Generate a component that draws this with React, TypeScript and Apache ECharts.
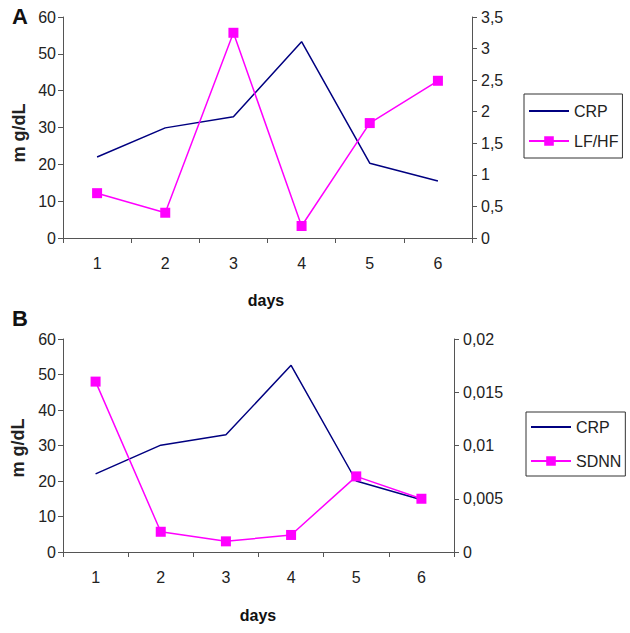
import React, { useEffect, useRef } from "react";
import * as echarts from "echarts";

const days = ["1", "2", "3", "4", "5", "6"];
const crpA = [22.0, 29.9, 32.9, 53.3, 20.3, 15.5];
const lfhf = [0.71, 0.4, 3.25, 0.19, 1.82, 2.49];
const crpB = [22.0, 30.1, 33.0, 52.6, 20.0, 14.7];
const sdnn = [0.016, 0.0019, 0.001, 0.0016, 0.0071, 0.005];

const FONT = "'Liberation Sans', Arial, sans-serif";
const NAVY = "#000080";
const MAGENTA = "#ff00ff";
const AXIS = "#555555";
const TXT = "#222222";

const comma = (v: number) => String(+v.toFixed(4)).replace(".", ",");

export default function App() {
  const ref = useRef<HTMLDivElement>(null);
  useEffect(() => {
    if (!ref.current) return;
    const chart = echarts.init(ref.current, null, { renderer: "svg" });
    const axisLine = { show: true, lineStyle: { color: AXIS, width: 1 } };
    const axisLabel = { color: TXT, fontSize: 16, fontFamily: FONT };
    const xAxisBase = {
      type: "category" as const,
      data: days,
      boundaryGap: true,
      axisLine,
      axisTick: { show: true, length: 5, lineStyle: { color: AXIS } },
      axisLabel: { ...axisLabel, margin: 17 },
      splitLine: { show: false },
    };
    const leftY = (grid: number) => ({
      type: "value" as const,
      gridIndex: grid,
      min: 0,
      max: 60,
      interval: 10,
      position: "left" as const,
      axisLine,
      axisTick: { show: true, length: 5, lineStyle: { color: AXIS } },
      axisLabel: { ...axisLabel, margin: 7 },
      splitLine: { show: false },
    });
    const rightY = (grid: number, max: number, interval: number) => ({
      type: "value" as const,
      gridIndex: grid,
      min: 0,
      max,
      interval,
      position: "right" as const,
      axisLine,
      axisTick: { show: true, length: 5, lineStyle: { color: AXIS } },
      axisLabel: { ...axisLabel, margin: 9, formatter: (v: number) => comma(v) },
      splitLine: { show: false },
    });
    const lineSeries = (name: string, data: number[], x: number, y: number) => ({
      name,
      type: "line" as const,
      xAxisIndex: x,
      yAxisIndex: y,
      data,
      symbol: "none",
      lineStyle: { color: NAVY, width: 1.5 },
      itemStyle: { color: NAVY },
    });
    const markSeries = (name: string, data: number[], x: number, y: number) => ({
      name,
      type: "line" as const,
      xAxisIndex: x,
      yAxisIndex: y,
      data,
      symbol: "rect",
      symbolSize: 10,
      showSymbol: true,
      lineStyle: { color: MAGENTA, width: 1.5 },
      itemStyle: { color: MAGENTA, borderWidth: 0 },
    });
    const legendBase = {
      orient: "vertical" as const,
      itemWidth: 40,
      itemHeight: 12,
      itemGap: 12,
      borderColor: "#333",
      borderWidth: 1,
      borderRadius: 0,
      textStyle: { color: TXT, fontSize: 16, fontFamily: FONT, lineHeight: 18 },
      selectedMode: false,
    };
    const crpLegend = { name: "CRP", itemStyle: { opacity: 0 } };
    const titleText = (text: string, x: number, y: number) => ({
      type: "text" as const,
      x,
      y,
      rotation: Math.PI / 2,
      style: {
        text,
        fill: TXT,
        font: `bold 18px ${FONT}`,
        textAlign: "center" as const,
        textVerticalAlign: "middle" as const,
      },
    });
    const plain = (text: string, x: number, y: number, size: number, align = "center") => ({
      type: "text" as const,
      x,
      y,
      style: {
        text,
        fill: "#111",
        font: `bold ${size}px ${FONT}`,
        textAlign: align as any,
        textVerticalAlign: "middle" as const,
      },
    });
    chart.setOption({
      animation: false,
      backgroundColor: "#ffffff",
      grid: [
        { left: 63, top: 17, width: 409, height: 221 },
        { left: 63, top: 339, width: 391, height: 213 },
      ],
      xAxis: [
        { ...xAxisBase, gridIndex: 0 },
        { ...xAxisBase, gridIndex: 1 },
      ],
      yAxis: [leftY(0), rightY(0, 3.5, 0.5), leftY(1), rightY(1, 0.02, 0.005)],
      legend: [
        { ...legendBase, left: 524, top: 94, padding: [8, 4, 8, 4], data: [crpLegend, "LF/HF"] },
        { ...legendBase, left: 526, top: 412, padding: [6, 4, 6, 4], itemGap: 16, data: [crpLegend, "SDNN"] },
      ],
      series: [
        lineSeries("CRP", crpA, 0, 0),
        markSeries("LF/HF", lfhf, 0, 1),
        lineSeries("CRP", crpB, 1, 2),
        markSeries("SDNN", sdnn, 1, 3),
      ],
      graphic: [
        plain("A", 12, 16, 22, "left"),
        plain("B", 12, 318, 22, "left"),
        titleText("m g/dL", 19, 133),
        titleText("m g/dL", 18, 448),
        plain("days", 266, 300, 16),
        plain("days", 258, 615, 16),
      ],
    });
    return () => chart.dispose();
  }, []);
  return (
    <div
      ref={ref}
      style={{ position: "fixed", left: 0, top: 0, width: 630, height: 633, background: "#fff" }}
    />
  );
}
